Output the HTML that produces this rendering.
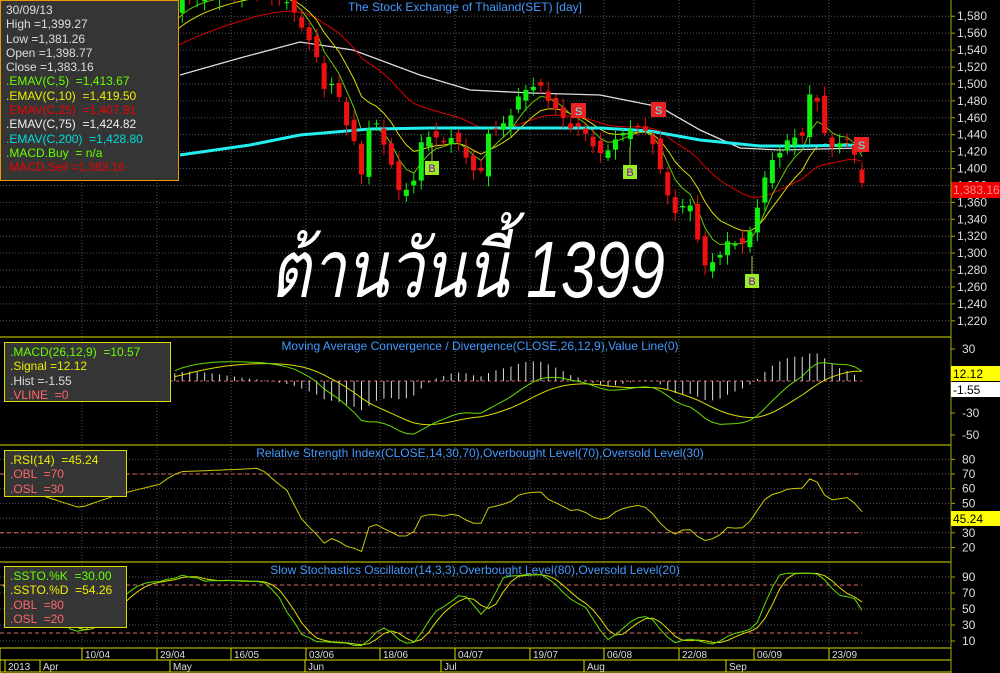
<!DOCTYPE html>
<html><head><meta charset="utf-8"><style>
html,body{margin:0;padding:0;background:#000;width:1000px;height:673px;overflow:hidden}
svg{display:block;font-family:"Liberation Sans",sans-serif}
.box{position:absolute;background:#353535;font-family:"Liberation Sans",sans-serif;font-size:12px;line-height:14.3px;padding:2px 5px;box-sizing:border-box}
</style></head><body>
<svg id="s" width="1000" height="673" xmlns="http://www.w3.org/2000/svg"></svg>
<div class="box" style="left:0;top:0;width:179px;height:181px;border:1px solid #e89a00;color:#ddd">
<div>30/09/13</div><div>High =1,399.27</div><div>Low =1,381.26</div><div>Open =1,398.77</div><div>Close =1,383.16</div>
<div style="color:#6f0">.EMAV(C,5) &nbsp;=1,413.67</div><div style="color:#ee0">.EMAV(C,10) &nbsp;=1,419.50</div>
<div style="color:#e00">.EMAV(C,25) &nbsp;=1,407.91</div><div style="color:#eee">.EMAV(C,75) &nbsp;=1,424.82</div>
<div style="color:#0dd">.EMAV(C,200) &nbsp;=1,428.80</div><div style="color:#6f0">.MACD.Buy &nbsp;= n/a</div><div style="color:#e00">.MACD.Sell =1,383.16</div></div>
<div class="box" style="left:4px;top:342px;width:167px;height:60px;border:1px solid #dd0;color:#ddd">
<div style="color:#6f0">.MACD(26,12,9) &nbsp;=10.57</div><div style="color:#ee0">.Signal =12.12</div><div>.Hist =-1.55</div><div style="color:#f66">.VLINE &nbsp;=0</div></div>
<div class="box" style="left:4px;top:450px;width:123px;height:47px;border:1px solid #dd0;color:#f66">
<div style="color:#ee0">.RSI(14) &nbsp;=45.24</div><div>.OBL &nbsp;=70</div><div>.OSL &nbsp;=30</div></div>
<div class="box" style="left:4px;top:566px;width:123px;height:62px;border:1px solid #dd0;color:#f66">
<div style="color:#6f0">.SSTO.%K &nbsp;=30.00</div><div style="color:#ee0">.SSTO.%D &nbsp;=54.26</div><div>.OBL &nbsp;=80</div><div>.OSL &nbsp;=20</div></div>
<script>
var S=document.getElementById('s'),h='';
function L(x1,y1,x2,y2,c,w,d){h+='<line x1="'+x1+'" y1="'+y1+'" x2="'+x2+'" y2="'+y2+'" stroke="'+c+'" stroke-width="'+(w||1)+'"'+(d?' stroke-dasharray="'+d+'"':'')+'/>';}
function T(x,y,t,c,s,a){h+='<text x="'+x+'" y="'+y+'" fill="'+c+'" font-size="'+(s||12)+'"'+(a?' text-anchor="'+a+'"':'')+'>'+t+'</text>';}
function P(pts,c,w){h+='<polyline fill="none" stroke="'+c+'" stroke-width="'+(w||1)+'" points="'+pts.map(p=>p[0].toFixed(1)+','+p[1].toFixed(1)).join(' ')+'"/>';}
var N=116,X=i=>862-(115-i)*7.47;
var K=[[0,1540],[40,1545],[80,1520],[120,1545],[160,1565],[180,1600],[220,1605],[260,1610],[290,1595],[300,1570],[315,1540],[325,1490],[335,1505],[345,1455],[355,1430],[362,1390],[372,1470],[380,1440],[390,1410],[400,1370],[413,1380],[420,1430],[432,1440],[445,1430],[455,1440],[465,1415],[475,1395],[480,1390],[487,1440],[500,1450],[510,1460],[520,1490],[530,1495],[540,1500],[548,1480],[560,1465],[575,1440],[580,1455],[590,1430],[598,1420],[605,1415],[612,1430],[620,1440],[628,1445],[640,1450],[650,1440],[660,1400],[665,1385],[670,1355],[677,1345],[685,1360],[692,1355],[700,1300],[707,1280],[713,1290],[722,1300],[730,1320],[738,1305],[745,1315],[752,1330],[760,1365],[767,1400],[775,1415],[782,1420],[790,1440],[797,1435],[804,1440],[810,1490],[816,1485],[825,1440],[832,1425],[840,1430],[848,1435],[855,1415],[862,1383]];
function interp(x){for(var j=1;j<K.length;j++)if(x<=K[j][0]){var a=K[j-1],b=K[j];return a[1]+(b[1]-a[1])*(x-a[0])/(b[0]-a[0]);}return K[K.length-1][1];}
var C=[],O=[],H=[],Lo=[];
for(var i=0;i<N;i++){C.push(interp(X(i)));}
for(i=0;i<N;i++){var o=i?C[i-1]+7*Math.sin(i*2.3):C[i];if(i==N-1)o=1398.8;O.push(o);H.push(Math.max(o,C[i])+3+8*Math.abs(Math.sin(i*1.7)));Lo.push(Math.min(o,C[i])-3-9*Math.abs(Math.cos(i*1.3)));}
function ema(a,n){var k=2/(n+1),r=[a[0]];for(var i=1;i<a.length;i++)r.push(r[i-1]+k*(a[i]-r[i-1]));return r;}
var Y=v=>67+(1520-v)*0.846;
var VX=[82,157,231,306,380,455,530,604,679,754,829];
for(var v=1220;v<=1580;v+=20){L(0,Y(v),951,Y(v),'#555',1,'1,2');T(957,Y(v)+4,v.toLocaleString('en-US'),'#ddd',12);L(951,Y(v),955,Y(v),'#aa0');}
VX.forEach(x=>L(x,0,x,648,'#555',1,'1,2'));
h+='<defs><clipPath id="cp"><rect x="0" y="0" width="951" height="337"/></clipPath></defs><g clip-path="url(#cp)">';
var w75=[[180,75],[240,58],[300,42],[353,50],[420,75],[470,90],[530,93],[600,95],[660,107],[700,130],[740,148],[780,150],[862,148]];
P(w75,'#ddd',1.3);
var e5=ema(C,5),e10=ema(C,10);
var e25=(function(){var k=2/26,r=[1500];for(var i=1;i<N;i++)r.push(r[i-1]+k*(C[i]-r[i-1]));return r;})();
P(e25.map((v,i)=>[X(i),Y(v)]),'#d00',1);
P(e10.map((v,i)=>[X(i),Y(v)]),'#dd0',1);
P(e5.map((v,i)=>[X(i),Y(v)]),'#6c0',1);
P([[180,155],[250,145],[300,135],[370,129],[430,128],[600,128],[650,131],[700,140],[760,146],[800,146],[862,145]],'#2ee',3);
for(i=0;i<N;i++){var x=X(i),up=C[i]>=O[i],col=up?'#1e1':'#e11';L(x,Y(H[i]),x,Y(Lo[i]),col);var t=Y(Math.max(O[i],C[i])),b=Y(Math.min(O[i],C[i]));h+='<rect x="'+(x-2.5)+'" y="'+t+'" width="5" height="'+Math.max(1,b-t)+'" fill="'+col+'"/>';}
h+='</g>';
[[578,111],[658,110],[861,145]].forEach(p=>{h+='<rect x="'+(p[0]-7)+'" y="'+(p[1]-8)+'" width="15" height="15" fill="#e22"/>';T(p[0]+0.5,p[1]+4,'S','#4ff',11,'middle');});
[[432,168],[630,172],[752,281]].forEach(p=>{L(p[0],p[1]-25,p[0],p[1],'#9d3');h+='<rect x="'+(p[0]-7)+'" y="'+(p[1]-7)+'" width="14" height="14" fill="#9e2"/>';T(p[0],p[1]+4,'B','#80c',11,'middle');});
h+='<rect x="951" y="182" width="49" height="16" fill="#e00"/>';T(953,194,'1,383.16','#f88',12);
T(465,11,'The Stock Exchange of Thailand(SET) [day]','#49f',12,'middle');
h+='<g transform="translate(270,297) scale(1,1.18)"><text x="0" y="0" fill="#fff" font-size="68" font-style="italic" font-family="Liberation Sans,DejaVu Sans,sans-serif" textLength="395" lengthAdjust="spacingAndGlyphs">ต้านวันนี้ 1399</text></g>';
[337,445,562,648,660].forEach(y=>L(0,y,951,y,'#dd0'));
L(951,0,951,673,'#aa0');
var e12=ema(C,12),e26=ema(C,26),M=e12.map((v,i)=>v-e26[i]),Sg=ema(M,9);
var YM=v=>381-v*1.075;
L(170,381,862,381,'#d66',1,'3,3');
for(i=0;i<N;i++){var hx=X(i);if(hx<170)continue;L(hx,381,hx,YM((M[i]-Sg[i])*1.3),'#ddd');}
P(Sg.map((v,i)=>[X(i),YM(v)]).filter(p=>p[0]>168),'#dd0');
P(M.map((v,i)=>[X(i),YM(v)]).filter(p=>p[0]>168),'#6d0');
[[30,349],[10,371],[-30,413],[-50,435]].forEach(a=>{T(962,a[1]+4,a[0],'#ddd',12);L(951,a[1],955,a[1],'#aa0');});
h+='<rect x="951" y="366" width="49" height="15" fill="#ff0"/>';T(953,378,'12.12','#000',12);
h+='<rect x="951" y="382" width="49" height="15" fill="#fff"/>';T(953,394,'-1.55','#000',12);
T(480,350,'Moving Average Convergence / Divergence(CLOSE,26,12,9),Value Line(0)','#49f',12,'middle');
var YR=v=>474+(70-v)*1.47,R=[],ag=0,al=0;
for(i=1;i<N;i++){var d=C[i]-C[i-1],g=Math.max(d,0),l=Math.max(-d,0);if(i==1){ag=8;al=6;}ag=(ag*13+g)/14;al=(al*13+l)/14;var rv=100-100/(1+ag/Math.max(al,.01));rv=45+(rv-45)*0.8;R.push([X(i),YR(rv)]);}
[20,30,40,50,60,70,80].forEach(v=>{L(0,YR(v),951,YR(v),'#555',1,'1,2');if(v!=40)T(962,YR(v)+4,v,'#ddd',12);L(951,YR(v),955,YR(v),'#aa0');});
L(0,YR(70),862,YR(70),'#d66',1,'4,3');L(0,YR(30),862,YR(30),'#d66',1,'4,3');
P(R,'#cc0');
h+='<rect x="951" y="511" width="49" height="15" fill="#ff0"/>';T(953,523,'45.24','#000',12);
T(480,457,'Relative Strength Index(CLOSE,14,30,70),Overbought Level(70),Oversold Level(30)','#49f',12,'middle');
var YS=v=>577+(90-v)*0.8,raw=[];
for(i=0;i<N;i++){var hh=-1e9,ll=1e9;for(var j=Math.max(0,i-13);j<=i;j++){hh=Math.max(hh,H[j]);ll=Math.min(ll,Lo[j]);}raw.push(100*(C[i]-ll)/(hh-ll));}
function sma(a,n){return a.map((v,i)=>{var s=0,c=0;for(var j=Math.max(0,i-n+1);j<=i;j++){s+=a[j];c++;}return s/c;});}
var SK=sma(raw,3),SD=sma(SK,3);
[10,30,50,70,90].forEach(v=>{L(0,YS(v),951,YS(v),'#555',1,'1,2');T(962,YS(v)+4,v,'#ddd',12);L(951,YS(v),955,YS(v),'#aa0');});
L(0,YS(80),862,YS(80),'#d66',1,'4,3');L(0,YS(20),862,YS(20),'#d66',1,'4,3');
P(SD.map((v,i)=>[X(i),YS(v)]),'#dd0');P(SK.map((v,i)=>[X(i),YS(v)]),'#6d0');
T(475,574,'Slow Stochastics Oscillator(14,3,3),Overbought Level(80),Oversold Level(20)','#49f',12,'middle');
L(0,672,951,672,'#dd0');L(0,648,0,673,'#dd0');
['10/04','29/04','16/05','03/06','18/06','04/07','19/07','06/08','22/08','06/09','23/09'].forEach((t,k)=>{L(VX[k],648,VX[k],660,'#dd0');T(VX[k]+3,658,t,'#ddd',10);});
[[5,'2013'],[40,'Apr'],[170,'May'],[305,'Jun'],[441,'Jul'],[584,'Aug'],[726,'Sep']].forEach(a=>{L(a[0],660,a[0],672,'#dd0');T(a[0]+3,670,a[1],'#ddd',10);});
S.innerHTML=h;
</script>
</body></html>
